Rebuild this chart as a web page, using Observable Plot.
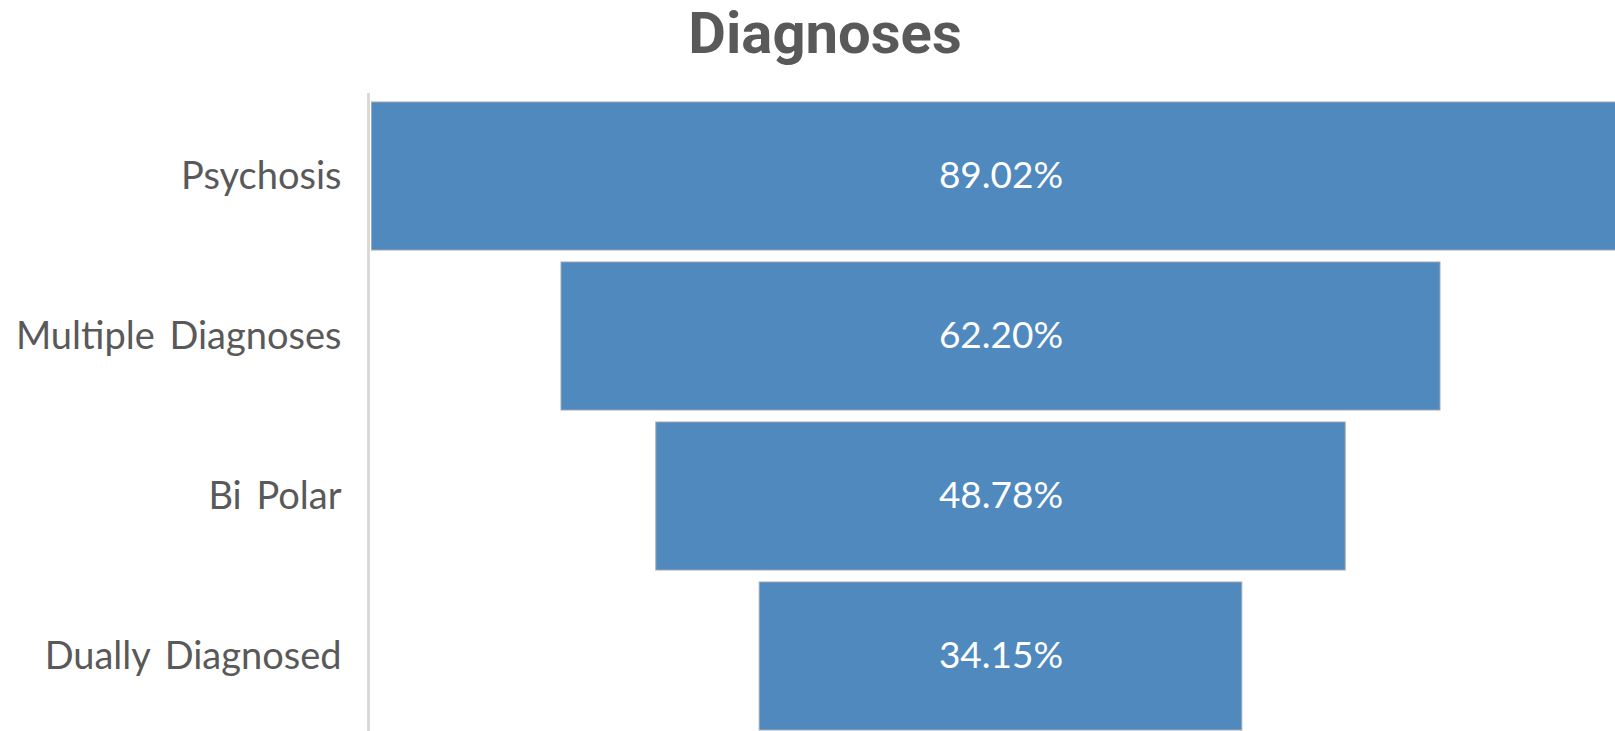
<!DOCTYPE html>
<html>
<head>
<meta charset="utf-8">
<script src="https://cdn.jsdelivr.net/npm/d3@7"></script>
<script src="https://cdn.jsdelivr.net/npm/@observablehq/plot@0.6"></script>
<style>
  html, body { margin: 0; padding: 0; background: white; overflow: hidden; }
  #title {
    height: 88px; box-sizing: border-box; padding-top: 4px;
    margin-left: 35px; width: 1580px; text-align: center;
    font-family: Roboto, "Liberation Sans", sans-serif; font-weight: 700;
    font-size: 58px; line-height: 58px; color: #595959;
  }
</style>
</head>
<body>
<div id="title">Diagnoses</div>
<div id="chart"></div>
<script>
const categories = ["Psychosis", "Multiple Diagnoses", "Bi Polar", "Dually Diagnosed"];
const values = [89.02, 62.20, 48.78, 34.15];
const valueLabels = ["89.02%", "62.20%", "48.78%", "34.15%"];

const data = categories.map((c, i) => ({category: c, value: values[i], label: valueLabels[i]}));
const half = d3.max(values) / 2;

const chart = Plot.plot({
  width: 1615,
  height: 643,
  marginTop: 6,
  marginLeft: 368,
  marginRight: 0,
  marginBottom: 0,
  x: {domain: [-half, half], range: [371.5, 1629.5], axis: null},
  y: {domain: categories, range: [6.6, 649.4], paddingInner: 0.074, paddingOuter: 0.037, axis: null},
  style: {fontFamily: "Lato, 'Open Sans', sans-serif", fontSize: "37px", color: "#595959", background: "white", wordSpacing: "5px"},
  marks: [
    Plot.barX(data, {y: "category", x1: d => -d.value / 2, x2: d => d.value / 2, fill: "#4f89be", stroke: "#a0a8b0", strokeWidth: 1}),
    Plot.text(data, {y: "category", x: () => 0, text: "label", fill: "white", fontSize: 37}),
    Plot.frame({anchor: "left", stroke: "#d9d9d9", strokeWidth: 3}),
    Plot.axisY({anchor: "left", tickSize: 0, tickPadding: 27, fontSize: 38, fill: "#595959", label: null})
  ]
});
document.getElementById("chart").appendChild(chart);
</script>
</body>
</html>
